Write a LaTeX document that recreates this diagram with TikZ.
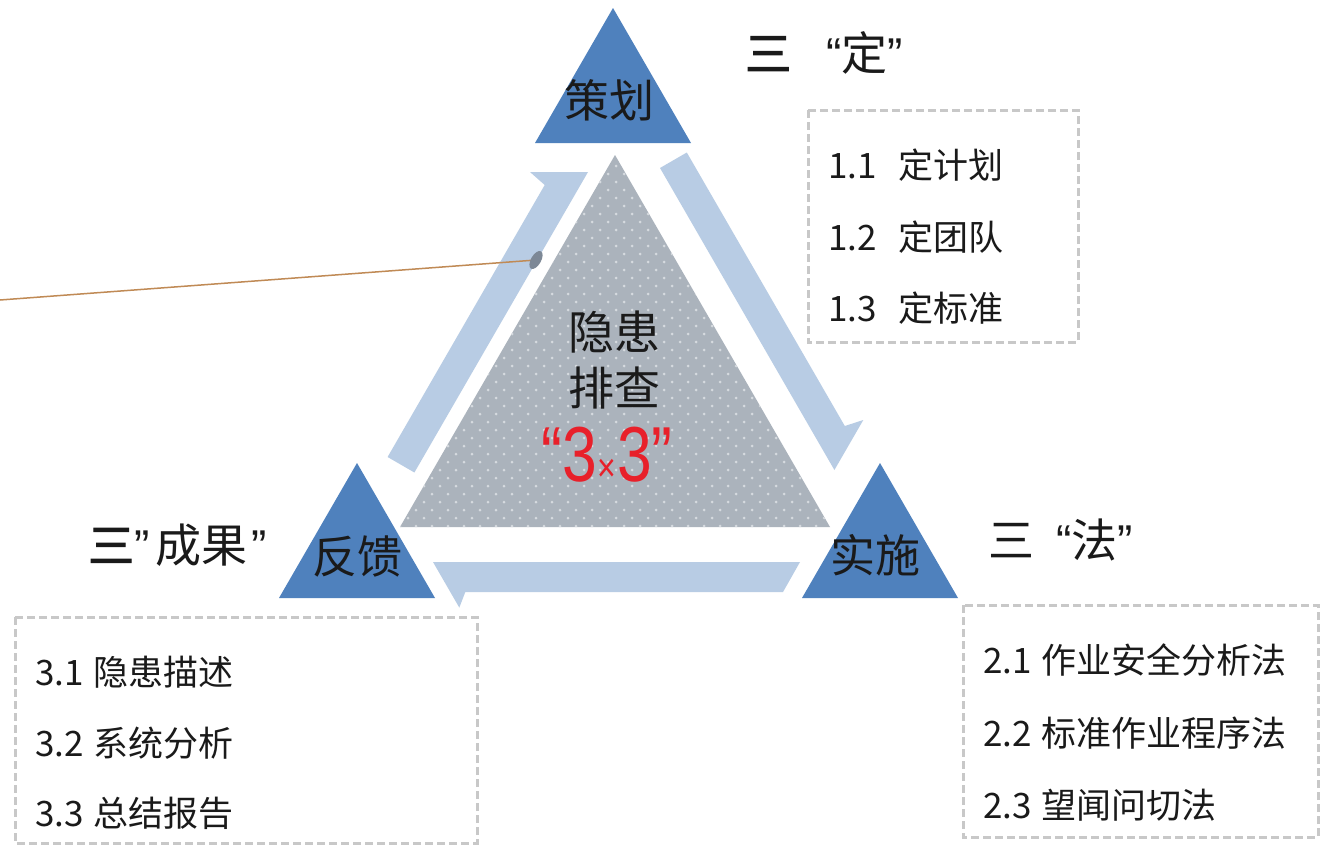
\documentclass[tikz,border=0pt]{standalone}
\usepackage{fontspec}
\usepackage{graphicx}
\setmainfont{Noto Sans CJK SC}
\newfontfamily\arialf{Liberation Sans}
\newfontfamily\cjkbold[FakeBold=2.5]{Noto Sans CJK SC}

\definecolor{triblue}{HTML}{4F81BD}
\definecolor{bandblue}{HTML}{B8CCE4}
\definecolor{centgray}{HTML}{ABB3BC}
\definecolor{dotgray}{HTML}{D6DADF}
\definecolor{dashgray}{HTML}{C8C8C8}
\definecolor{pinline}{HTML}{C08A55}
\definecolor{pingray}{HTML}{7D8896}
\definecolor{redtxt}{HTML}{E8202A}
\definecolor{txt}{HTML}{1A1A1A}

\begin{document}
\begin{tikzpicture}[x=1pt,y=-1pt,
  tri/.style={fill=triblue, draw=none},
  band/.style={fill=bandblue, draw=none},
  tritext/.style={inner sep=0, font=\fontsize{45}{50}\selectfont, text=txt},
  centtext/.style={inner sep=0, font=\fontsize{46}{50}\selectfont, text=txt},
  head/.style={inner sep=0, anchor=west, font=\fontsize{46}{50}\selectfont, text=txt},
  item/.style={inner sep=0, anchor=west, font=\fontsize{35}{40}\selectfont, text=txt},
  dbox/.style={draw=dashgray, line width=3pt, dash pattern=on 8pt off 4pt}
]
\useasboundingbox (0,0) rectangle (1322,846);
\fill[white] (0,0) rectangle (1322,846);

% central gray triangle with dots
\fill[centgray] (615,155) -- (400,527) -- (830,527) -- cycle;
\begin{scope}
  \clip (615,155) -- (400,527) -- (830,527) -- cycle;
  \foreach \i in {0,...,46}{
    \pgfmathsetmacro{\yy}{158+8*\i}
    \pgfmathsetmacro{\off}{mod(\i,2)*8}
    \foreach \j in {0,...,27}{
      \fill[dotgray] (400+\off+16*\j, \yy) circle (1.5pt);
    }
  }
\end{scope}

% light blue half-arrow bands
\fill[band] (530,172) -- (588,172) -- (414.4,472.5) -- (387.6,457) -- (544.7,185) -- cycle;
\fill[band] (686.8,152.5) -- (660,168) -- (834.4,470) -- (863.3,420) -- (844.8,426) -- cycle;
\fill[band] (800,562) -- (433,562) -- (459.3,607.6) -- (465.3,592) -- (783,592) -- cycle;

% blue triangles
\fill[tri] (613,8) -- (535,143) -- (691,143) -- cycle;
\fill[tri] (357,463) -- (279,598) -- (435,598) -- cycle;
\fill[tri] (880,463) -- (802,598) -- (958,598) -- cycle;

\node[tritext] (plan) at (609,100) {策划};
\node[tritext] (feedback) at (357,556) {反馈};
\node[tritext] (impl) at (875,555) {实施};

% central text
\node[centtext] (c1) at (614,332) {隐患};
\node[centtext] (c2) at (614,388) {排查};
\node[inner sep=0, text=redtxt] (c3) at (607,455)
  {\scalebox{0.8}[1]{\arialf\fontsize{78}{78}\selectfont “3\hspace{1pt}{\fontsize{40}{40}\selectfont ×}\hspace{1pt}3”}};

% pointer line
\coordinate (lstart) at (0,300);
\coordinate (pin) at (536,260);
\draw[pinline, line width=1.5pt] (lstart) -- (pin);
\fill[pingray, rotate around={60:(pin)}] (pin) ellipse (10pt and 5pt);

% headings
\node[head] (hA) at (745,53) {{\cjkbold 三}\hspace{35pt}{\arialf “}定{\arialf ”}};
\node[head] (hB) at (988,540) {三\hspace{22pt}{\arialf “}法{\arialf ”}};
\node[head] (hC) at (88,545) {{\cjkbold 三}{\arialf ”}\hspace{6pt}成果\hspace{4pt}{\arialf ”}};

% dashed boxes
\draw[dbox] (808,110) rectangle (1078,342);
\draw[dbox] (963,605) rectangle (1318,837);
\draw[dbox] (15,617) rectangle (477,843);

% box items
\node[item] (i11) at (828,165) {1.1\hspace{22pt}定计划};
\node[item] (i12) at (828,237) {1.2\hspace{22pt}定团队};
\node[item] (i13) at (828,308) {1.3\hspace{22pt}定标准};

\node[item] (i21) at (983,660) {2.1\hspace{10pt}作业安全分析法};
\node[item] (i22) at (983,733) {2.2\hspace{10pt}标准作业程序法};
\node[item] (i23) at (983,805) {2.3\hspace{10pt}望闻问切法};

\node[item] (i31) at (35,672) {3.1\hspace{10pt}隐患描述};
\node[item] (i32) at (35,743) {3.2\hspace{10pt}系统分析};
\node[item] (i33) at (35,813) {3.3\hspace{10pt}总结报告};
\end{tikzpicture}
\end{document}
